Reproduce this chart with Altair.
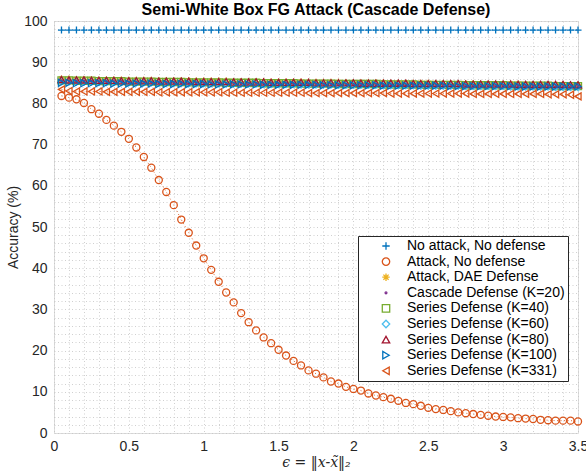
import altair as alt
import pandas as pd

eps = [0.05, 0.10, 0.15, 0.20, 0.25, 0.30, 0.35, 0.40, 0.45, 0.50,
       0.55, 0.60, 0.65, 0.70, 0.75, 0.80, 0.85, 0.90, 0.95, 1.00,
       1.05, 1.10, 1.15, 1.20, 1.25, 1.30, 1.35, 1.40, 1.45, 1.50,
       1.55, 1.60, 1.65, 1.70, 1.75, 1.80, 1.85, 1.90, 1.95, 2.00,
       2.05, 2.10, 2.15, 2.20, 2.25, 2.30, 2.35, 2.40, 2.45, 2.50,
       2.55, 2.60, 2.65, 2.70, 2.75, 2.80, 2.85, 2.90, 2.95, 3.00,
       3.05, 3.10, 3.15, 3.20, 3.25, 3.30, 3.35, 3.40, 3.45, 3.50]

no_attack = [97.8, 97.8, 97.8, 97.8, 97.8, 97.8, 97.8, 97.8, 97.8, 97.8,
             97.8, 97.8, 97.8, 97.8, 97.8, 97.8, 97.8, 97.8, 97.8, 97.8,
             97.8, 97.8, 97.8, 97.8, 97.8, 97.8, 97.8, 97.8, 97.8, 97.8,
             97.8, 97.8, 97.8, 97.8, 97.8, 97.8, 97.8, 97.8, 97.8, 97.8,
             97.8, 97.8, 97.8, 97.8, 97.8, 97.8, 97.8, 97.8, 97.8, 97.8,
             97.8, 97.8, 97.8, 97.8, 97.8, 97.8, 97.8, 97.8, 97.8, 97.8,
             97.8, 97.8, 97.8, 97.8, 97.8, 97.8, 97.8, 97.8, 97.8, 97.8]

attack_no_def = [81.8, 81.4, 81.0, 80.1, 78.6, 77.5, 76.0, 74.6, 73.1, 71.4,
                 69.3, 67.0, 64.4, 61.4, 58.5, 55.3, 51.8, 48.6, 45.5, 42.4,
                 39.6, 36.7, 34.1, 31.7, 29.1, 26.9, 24.9, 23.2, 21.8, 20.2,
                 18.8, 17.5, 16.4, 15.2, 14.4, 13.5, 12.5, 12.0, 11.2, 10.7,
                 10.3, 9.6, 9.1, 8.7, 8.3, 7.8, 7.3, 7.0, 6.6, 6.1,
                 5.8, 5.6, 5.3, 5.0, 4.8, 4.6, 4.4, 4.2, 4.0, 3.9,
                 3.8, 3.6, 3.5, 3.4, 3.2, 3.1, 3.0, 3.0, 3.0, 2.8]

dae = [85.9, 85.9, 85.8, 85.8, 85.8, 85.7, 85.7, 85.7, 85.7, 85.6,
       85.6, 85.6, 85.6, 85.5, 85.5, 85.5, 85.5, 85.5, 85.4, 85.4,
       85.4, 85.4, 85.4, 85.3, 85.3, 85.3, 85.3, 85.3, 85.2, 85.2,
       85.2, 85.2, 85.2, 85.1, 85.1, 85.1, 85.1, 85.1, 85.0, 85.0,
       85.0, 85.0, 85.0, 85.0, 84.9, 84.9, 84.9, 84.9, 84.9, 84.9,
       84.8, 84.8, 84.8, 84.8, 84.8, 84.8, 84.7, 84.7, 84.7, 84.7,
       84.7, 84.7, 84.6, 84.6, 84.6, 84.6, 84.6, 84.6, 84.5, 84.5]

cascade20 = [85.5, 85.5, 85.4, 85.4, 85.4, 85.3, 85.3, 85.3, 85.3, 85.2,
             85.2, 85.2, 85.2, 85.1, 85.1, 85.1, 85.1, 85.0, 85.0, 85.0,
             85.0, 85.0, 84.9, 84.9, 84.9, 84.9, 84.9, 84.8, 84.8, 84.8,
             84.8, 84.8, 84.7, 84.7, 84.7, 84.7, 84.7, 84.6, 84.6, 84.6,
             84.6, 84.6, 84.6, 84.5, 84.5, 84.5, 84.5, 84.5, 84.4, 84.4,
             84.4, 84.4, 84.4, 84.4, 84.3, 84.3, 84.3, 84.3, 84.3, 84.3,
             84.2, 84.2, 84.2, 84.2, 84.2, 84.2, 84.1, 84.1, 84.1, 84.1]

series40 = [85.6, 85.6, 85.5, 85.5, 85.5, 85.4, 85.4, 85.4, 85.4, 85.3,
            85.3, 85.3, 85.3, 85.2, 85.2, 85.2, 85.2, 85.1, 85.1, 85.1,
            85.1, 85.1, 85.0, 85.0, 85.0, 85.0, 85.0, 84.9, 84.9, 84.9,
            84.9, 84.9, 84.8, 84.8, 84.8, 84.8, 84.8, 84.7, 84.7, 84.7,
            84.7, 84.7, 84.7, 84.6, 84.6, 84.6, 84.6, 84.6, 84.5, 84.5,
            84.5, 84.5, 84.5, 84.5, 84.4, 84.4, 84.4, 84.4, 84.4, 84.4,
            84.3, 84.3, 84.3, 84.3, 84.3, 84.3, 84.2, 84.2, 84.2, 84.2]

series60 = [85.4, 85.4, 85.3, 85.3, 85.3, 85.2, 85.2, 85.2, 85.2, 85.1,
            85.1, 85.1, 85.1, 85.0, 85.0, 85.0, 85.0, 84.9, 84.9, 84.9,
            84.9, 84.9, 84.8, 84.8, 84.8, 84.8, 84.8, 84.7, 84.7, 84.7,
            84.7, 84.7, 84.6, 84.6, 84.6, 84.6, 84.6, 84.5, 84.5, 84.5,
            84.5, 84.5, 84.5, 84.4, 84.4, 84.4, 84.4, 84.4, 84.3, 84.3,
            84.3, 84.3, 84.3, 84.3, 84.2, 84.2, 84.2, 84.2, 84.2, 84.2,
            84.1, 84.1, 84.1, 84.1, 84.1, 84.1, 84.0, 84.0, 84.0, 84.0]

series80 = [85.8, 85.7, 85.7, 85.7, 85.6, 85.6, 85.6, 85.6, 85.5, 85.5,
            85.5, 85.5, 85.5, 85.4, 85.4, 85.4, 85.4, 85.4, 85.3, 85.3,
            85.3, 85.3, 85.3, 85.2, 85.2, 85.2, 85.2, 85.2, 85.1, 85.1,
            85.1, 85.1, 85.1, 85.1, 85.0, 85.0, 85.0, 85.0, 85.0, 85.0,
            84.9, 84.9, 84.9, 84.9, 84.9, 84.9, 84.9, 84.8, 84.8, 84.8,
            84.8, 84.8, 84.8, 84.8, 84.7, 84.7, 84.7, 84.7, 84.7, 84.7,
            84.7, 84.6, 84.6, 84.6, 84.6, 84.6, 84.6, 84.6, 84.5, 84.5]

series100 = [85.0, 85.0, 84.9, 84.9, 84.9, 84.9, 84.9, 84.8, 84.8, 84.8,
             84.8, 84.8, 84.8, 84.7, 84.7, 84.7, 84.7, 84.7, 84.7, 84.7,
             84.6, 84.6, 84.6, 84.6, 84.6, 84.6, 84.6, 84.5, 84.5, 84.5,
             84.5, 84.5, 84.5, 84.5, 84.5, 84.4, 84.4, 84.4, 84.4, 84.4,
             84.4, 84.4, 84.4, 84.3, 84.3, 84.3, 84.3, 84.3, 84.3, 84.3,
             84.3, 84.3, 84.2, 84.2, 84.2, 84.2, 84.2, 84.2, 84.2, 84.2,
             84.2, 84.1, 84.1, 84.1, 84.1, 84.1, 84.1, 84.1, 84.1, 84.1]

series331 = [83.4, 83.0, 82.9, 82.9, 82.9, 82.9, 82.8, 82.8, 82.8, 82.8,
             82.8, 82.8, 82.8, 82.7, 82.7, 82.7, 82.7, 82.7, 82.7, 82.7,
             82.7, 82.7, 82.6, 82.6, 82.6, 82.6, 82.6, 82.6, 82.6, 82.6,
             82.6, 82.6, 82.6, 82.5, 82.5, 82.5, 82.5, 82.5, 82.5, 82.5,
             82.5, 82.5, 82.5, 82.5, 82.4, 82.4, 82.4, 82.4, 82.4, 82.4,
             82.4, 82.4, 82.4, 82.4, 82.4, 82.3, 82.3, 82.3, 82.3, 82.3,
             82.3, 82.3, 82.3, 82.3, 82.3, 82.2, 82.2, 82.2, 82.1, 81.7]

names = ["No attack, No defense", "Attack, No defense", "Attack, DAE Defense",
         "Cascade Defense (K=20)", "Series Defense (K=40)", "Series Defense (K=60)",
         "Series Defense (K=80)", "Series Defense (K=100)", "Series Defense (K=331)"]
values = [no_attack, attack_no_def, dae, cascade20, series40, series60,
          series80, series100, series331]
colors = ["#0072BD", "#D95319", "#EDB120", "#7E2F8E", "#77AC30",
          "#4DBEEE", "#A2142F", "#0072BD", "#D95319"]

PLUS = "M-1,0L1,0M0,-1L0,1"
STAR = "M-1,0L1,0M0,-1L0,1M-0.7,-0.7L0.7,0.7M-0.7,0.7L0.7,-0.7"
DOT = "M-0.25,0A0.25,0.25 0 1,0 0.25,0A0.25,0.25 0 1,0 -0.25,0Z"
shapes = [PLUS, "circle", STAR, DOT, "square", "diamond",
          "triangle-up", "triangle-right", "triangle-left"]

x_grid = [round(i * 0.1, 1) for i in range(36)]
y_grid = [i * 2 for i in range(51)]

rows = []
for si, (n, vals) in enumerate(zip(names, values)):
    for xi, (xv, yv) in enumerate(zip(eps, vals)):
        rows.append({"series": n, "eps": xv, "acc": yv, "si": si, "xi": xi})
df = pd.DataFrame(rows)

FONT = "Liberation Sans"

x_enc = alt.X("eps:Q", scale=alt.Scale(domain=[0, 3.5], nice=False, zero=False),
              axis=alt.Axis(values=x_grid, grid=True, ticks=False, domain=False,
                            labelExpr="abs(datum.value*2 - round(datum.value*2)) < 0.001 ? format(datum.value, '~g') : ''",
                            labelFontSize=14, labelFont=FONT, labelColor="#262626",
                            labelPadding=6, labelFlush=False,
                            title="ϵ = ‖x-x̃‖₂", titleFont="DejaVu Serif",
                            titleFontStyle="italic", titleFontWeight="normal",
                            titleFontSize=14, titleColor="#262626", titlePadding=2,
                            gridDash=[1, 2.5], gridColor="#c4c4c4", gridWidth=0.8))
y_enc = alt.Y("acc:Q", scale=alt.Scale(domain=[0, 100], nice=False),
              axis=alt.Axis(values=y_grid, grid=True, ticks=False, domain=False,
                            labelExpr="datum.value % 10 == 0 ? datum.label : ''",
                            labelFontSize=14, labelFont=FONT, labelColor="#262626",
                            labelPadding=7, labelFlush=False,
                            title="Accuracy (%)", titleFont=FONT,
                            titleFontWeight="normal", titleFontSize=14,
                            titleColor="#262626", titlePadding=3,
                            gridDash=[1, 2.5], gridColor="#c4c4c4", gridWidth=0.8))

legend = alt.Legend(orient="none", legendX=304, legendY=215,
                    title=None, fillColor="white",
                    strokeColor="#262626", padding=3,
                    labelFontSize=14, labelFont=FONT,
                    labelColor="#000000", symbolStrokeWidth=1.3,
                    symbolSize=55, rowPadding=1.6,
                    symbolOffset=18, labelOffset=14,
                    labelLimit=160, cornerRadius=0)

color_enc = alt.Color("series:N", sort=names,
                      scale=alt.Scale(domain=names, range=colors), legend=legend)
shape_enc = alt.Shape("series:N", sort=names,
                      scale=alt.Scale(domain=names, range=shapes), legend=legend)

lines = alt.Chart(df).mark_line(strokeDash=[1, 2.5], strokeWidth=0.9).encode(
    x=x_enc, y=y_enc,
    stroke=alt.Stroke("series:N", sort=names,
                      scale=alt.Scale(domain=names, range=colors), legend=None),
    detail="series:N", order="xi:Q")

points = alt.Chart(df).mark_point(filled=False, size=50, strokeWidth=1.3, opacity=1).encode(
    x=x_enc, y=y_enc, color=color_enc, shape=shape_enc, order="si:Q")

chart = alt.layer(lines, points).resolve_scale(stroke="independent").properties(
    width=524, height=412,
    autosize=alt.AutoSizeParams(type="none"),
    padding={"left": 54, "top": 21, "right": 8, "bottom": 41},
    title=alt.Title("Semi-White Box FG Attack (Cascade Defense)", font=FONT,
                    fontSize=16, fontWeight="bold", color="#000000",
                    anchor="middle", offset=-20, baseline="bottom"),
).configure_view(stroke="#262626", strokeWidth=1).configure(background="white")

chart.save("out.html", embed_options={"renderer": "svg", "actions": False})
